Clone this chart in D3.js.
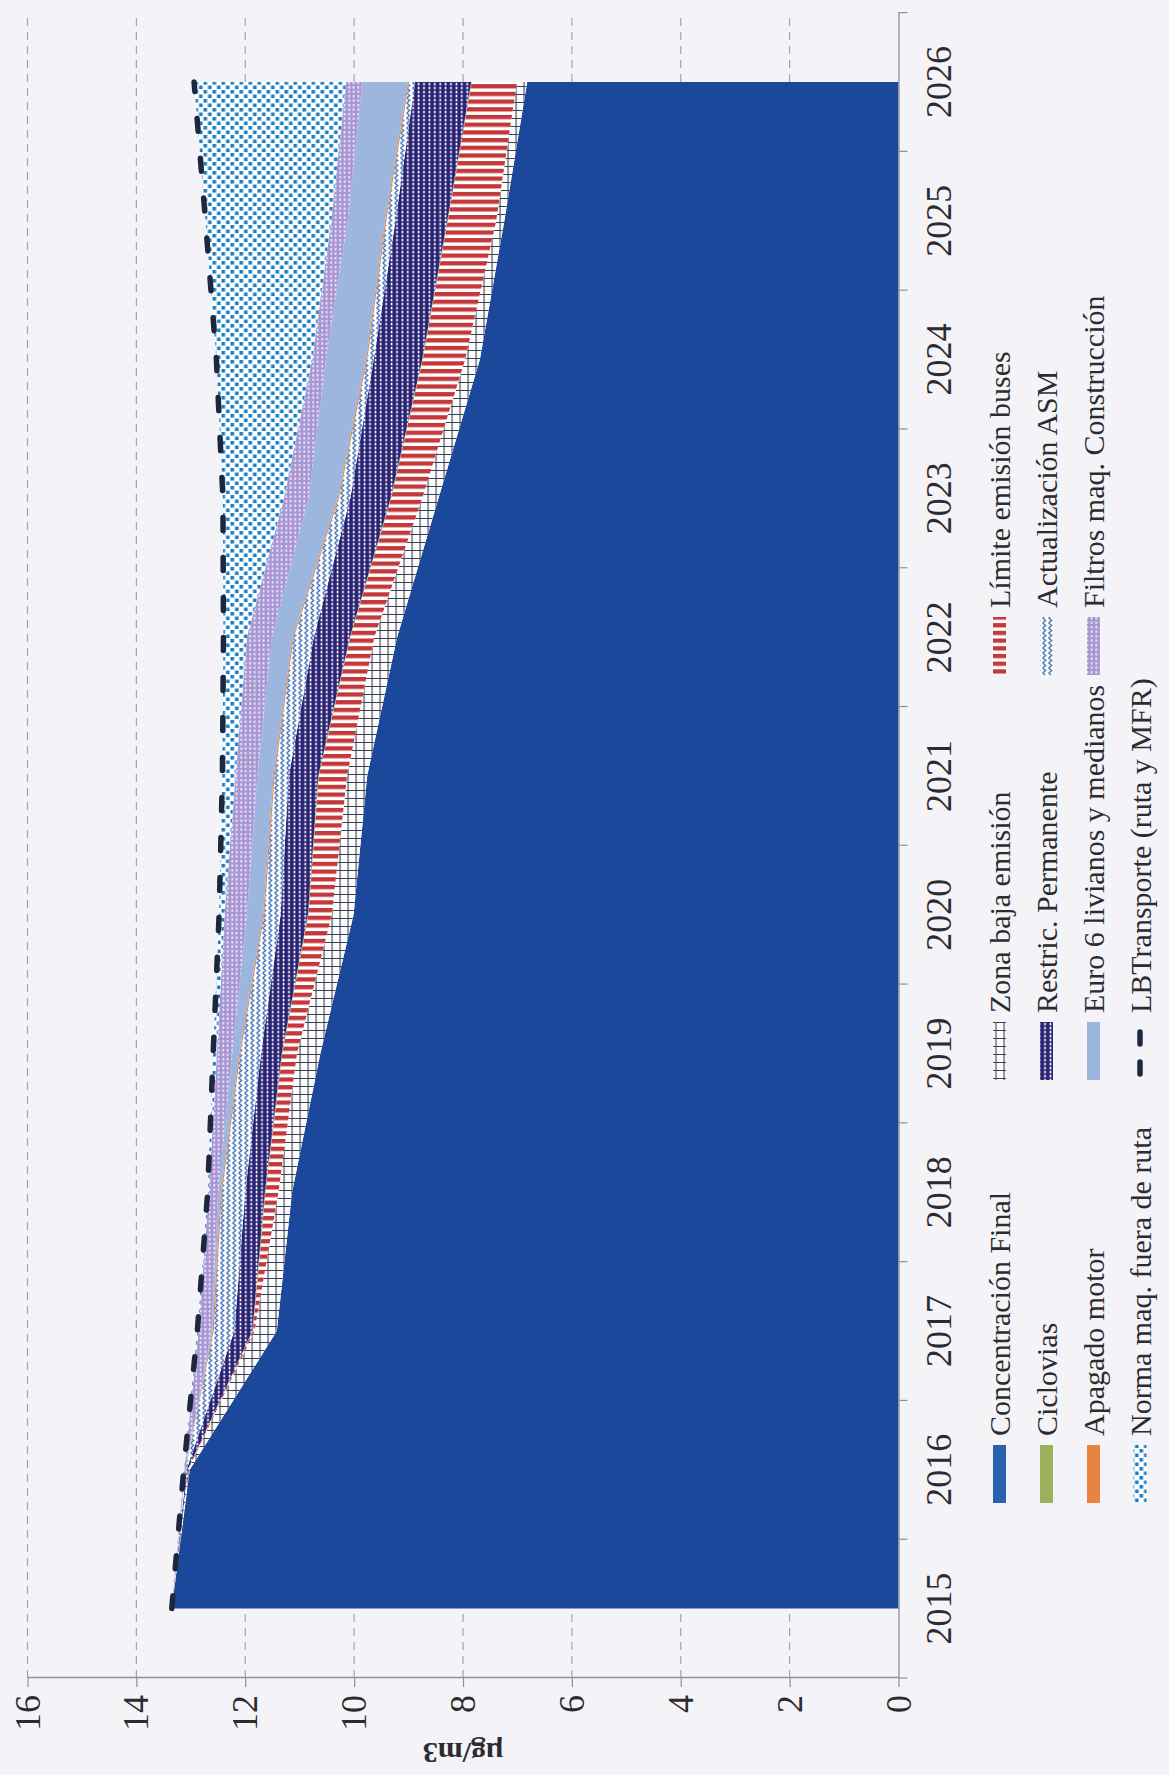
<!DOCTYPE html>
<html>
<head>
<meta charset="utf-8">
<script src="https://cdn.jsdelivr.net/npm/d3@7"></script>
<style>
  html, body { margin: 0; padding: 0; background: #f4f4f8; }
  svg { display: block; }
</style>
</head>
<body>
<svg id="chart" width="1169" height="1775"></svg>
<script>
// ---------------- data ----------------
const years = ["2015","2016","2017","2018","2019","2020","2021","2022","2023","2024","2025","2026"];
const valueTicks = [0, 2, 4, 6, 8, 10, 12, 14, 16];
const unitLabel = "µg/m3";

const concentracionFinal = [13.35, 13.02, 11.42, 11.14, 10.62, 10.01, 9.76, 9.21, 8.45, 7.69, 7.24, 6.82];
const zonaBajaEmision    = [0, 0.03, 0.41, 0.25, 0.43, 0.40, 0.37, 0.42, 0.30, 0.27, 0.15, 0.19];
const limiteEmisionBuses = [0, 0.01, 0.03, 0.24, 0.27, 0.43, 0.52, 0.44, 0.57, 0.78, 0.89, 0.83];
const ciclovias          = [0, 0, 0.01, 0.01, 0.01, 0.01, 0.01, 0.01, 0.01, 0.01, 0.01, 0.01];
const restricPermanente  = [0, 0.02, 0.33, 0.36, 0.38, 0.50, 0.54, 0.66, 0.74, 0.89, 0.95, 1.03];
const actualizacionASM   = [0, 0.02, 0.38, 0.43, 0.38, 0.30, 0.26, 0.37, 0.21, 0.12, 0.17, 0.11];
const apagadoMotor       = [0, 0, 0.02, 0.02, 0.02, 0.02, 0.02, 0.02, 0.02, 0.02, 0.02, 0.02];
const euro6              = [0, 0, 0.02, 0.05, 0.13, 0.30, 0.30, 0.38, 0.54, 0.74, 0.69, 0.84];
const filtrosMaq         = [0, 0.02, 0.24, 0.17, 0.28, 0.41, 0.40, 0.46, 0.45, 0.25, 0.30, 0.30];
const normaMaq           = [0, 0.01, 0.02, 0.02, 0.07, 0.10, 0.24, 0.43, 1.12, 1.76, 2.31, 2.79];
const lbTransporte       = [13.35, 13.13, 12.88, 12.69, 12.59, 12.48, 12.42, 12.40, 12.41, 12.53, 12.73, 12.94];

// stacking order (bottom -> top) equals legend order (row-wise)
const seriesNames = [
  "Concentración Final", "Zona baja emisión", "Límite emisión buses",
  "Ciclovias", "Restric. Permanente", "Actualización ASM",
  "Apagado motor", "Euro 6 livianos y medianos", "Filtros maq. Construcción",
  "Norma maq. fuera de ruta"
];
const seriesValues = [
  concentracionFinal, zonaBajaEmision, limiteEmisionBuses,
  ciclovias, restricPermanente, actualizacionASM,
  apagadoMotor, euro6, filtrosMaq, normaMaq
];
const lineName = "LBTransporte (ruta y MFR)";

// ---------------- layout ----------------
const svg = d3.select("#chart");
const W = 1665.4;   // length of category axis (rotated, runs bottom -> top on screen)
const H = 871;      // length of value axis
const FONT = "'Liberation Serif', 'Times New Roman', serif";

const table = years.map((yr, i) => {
  const row = { year: yr };
  seriesNames.forEach((n, k) => row[n] = seriesValues[k][i]);
  row.lb = lbTransporte[i];
  return row;
});

// ---------------- patterns (designed in screen orientation) ----------------
const defs = svg.append("defs");
function pat(id, w, h, bg, draw) {
  const p = defs.append("pattern").attr("id", id)
    .attr("patternUnits", "userSpaceOnUse")
    .attr("width", w).attr("height", h)
    .attr("patternTransform", "rotate(90)");
  if (bg) p.append("rect").attr("width", w).attr("height", h).attr("fill", bg);
  draw(p);
}
// Zona baja emision: grid
pat("pZona", 8, 8, "#ffffff", p => {
  p.append("path").attr("d", "M0,0.5H8M0.5,0V8").attr("stroke", "#3b3f52").attr("stroke-width", 1.2).attr("fill", "none");
});
// Limite emision buses: horizontal red bars
pat("pLimite", 8, 7.7, "#ffffff", p => {
  p.append("rect").attr("x", 0).attr("y", 0).attr("width", 8).attr("height", 4.3).attr("fill", "#c4373a");
});
// Restric. permanente: navy with white dashes
pat("pRestric", 5.4, 8, "#2a2373", p => {
  p.append("rect").attr("x", 1.5).attr("y", 0.8).attr("width", 1.6).attr("height", 2.6).attr("fill", "#ffffff");
  p.append("rect").attr("x", 1.5).attr("y", 4.8).attr("width", 1.6).attr("height", 2.6).attr("fill", "#ffffff");
});
// Actualizacion ASM: zigzag columns
pat("pActual", 6, 5, "#ffffff", p => {
  p.append("path").attr("d", "M1.2,0L4.2,2.5L1.2,5").attr("stroke", "#2b5fae").attr("stroke-width", 1.2).attr("fill", "none");
});
// Filtros maq: lavender lattice
pat("pFiltros", 4.5, 4.5, "#a896d4", p => {
  p.append("rect").attr("x", 1.4).attr("y", 1.0).attr("width", 1.6).attr("height", 2.4).attr("fill", "#f6f4fb");
});
// Norma maq: blue squares
pat("pNorma", 9, 9, "#ffffff", p => {
  p.append("rect").attr("x", 0.5).attr("y", 0.5).attr("width", 3.6).attr("height", 3.6).attr("fill", "#1a7fc2");
  p.append("rect").attr("x", 5).attr("y", 5).attr("width", 3.6).attr("height", 3.6).attr("fill", "#1a7fc2");
});

const fills = {
  "Concentración Final": "#1b489b",
  "Zona baja emisión": "url(#pZona)",
  "Límite emisión buses": "url(#pLimite)",
  "Ciclovias": "#9bb25a",
  "Restric. Permanente": "url(#pRestric)",
  "Actualización ASM": "url(#pActual)",
  "Apagado motor": "#e8843f",
  "Euro 6 livianos y medianos": "#9db6de",
  "Filtros maq. Construcción": "url(#pFiltros)",
  "Norma maq. fuera de ruta": "url(#pNorma)"
};
const legendFills = Object.assign({}, fills, { "Concentración Final": "#2b62ad" });

// ---------------- rotated chart group ----------------
const g = svg.append("g").attr("transform", "translate(27.5,1678) rotate(-90)");

const x = d3.scaleBand().domain(years).range([0, W]).paddingInner(0).paddingOuter(0);
const xc = yr => x(yr) + x.bandwidth() / 2;
const y = d3.scaleLinear().domain([0, 16]).range([H, 0]);

// gridlines
g.append("g").selectAll("line").data(valueTicks.filter(t => t > 0)).join("line")
  .attr("x1", 0).attr("x2", W)
  .attr("y1", d => y(d)).attr("y2", d => y(d))
  .attr("stroke", "#a3a3a8").attr("stroke-width", 1.2).attr("stroke-dasharray", "8,6");

// stacked areas
const stack = d3.stack().keys(seriesNames);
const layers = stack(table);
const area = d3.area()
  .x(d => xc(d.data.year))
  .y0(d => y(d[0]))
  .y1(d => y(d[1]));
g.append("g").selectAll("path").data(layers).join("path")
  .attr("d", area)
  .attr("fill", d => fills[d.key])
  .attr("stroke", "none");

// LBTransporte dashed line
const line = d3.line().x(d => xc(d.year)).y(d => y(d.lb));
g.append("path").datum(table)
  .attr("d", line)
  .attr("fill", "none")
  .attr("stroke", "#1e2740")
  .attr("stroke-width", 5.5)
  .attr("stroke-linecap", "round")
  .attr("stroke-dasharray", "13,27");

// value axis (left in unrotated frame -> bottom on screen)
const yAxis = g.append("g").call(
  d3.axisLeft(y).tickValues(valueTicks).tickFormat(d3.format("d")).tickSize(9).tickSizeOuter(0).tickPadding(8)
);
yAxis.select(".domain").attr("stroke", "#8f8f96").attr("stroke-width", 1.3);
yAxis.selectAll(".tick line").attr("stroke", "#8f8f96").attr("stroke-width", 1.2);
yAxis.selectAll("text").attr("font-family", FONT).attr("font-size", 36).attr("fill", "#2c2c30");

// category axis (bottom in unrotated frame -> right on screen)
const xAxis = g.append("g").attr("transform", `translate(0,${H})`).call(
  d3.axisBottom(x).tickSize(0).tickSizeOuter(0).tickPadding(0)
);
xAxis.select(".domain").attr("stroke", "#8f8f96").attr("stroke-width", 1.3);
xAxis.selectAll("text").attr("font-family", FONT).attr("font-size", 36).attr("fill", "#2c2c30")
  .attr("y", 52).attr("dy", null);
xAxis.append("g").selectAll("line").data(d3.range(years.length + 1)).join("line")
  .attr("x1", i => i * x.step()).attr("x2", i => i * x.step())
  .attr("y1", 0).attr("y2", 9)
  .attr("stroke", "#8f8f96").attr("stroke-width", 1.2);

// unit label
g.append("text")
  .attr("transform", `translate(-75,${H / 2}) rotate(-90)`)
  .attr("text-anchor", "middle").attr("dominant-baseline", "central")
  .attr("font-family", FONT).attr("font-size", 30).attr("font-weight", "bold")
  .attr("fill", "#2c2c30")
  .text(unitLabel);

// legend
const legendItems = seriesNames.concat([lineName]);
const colU = [175, 598, 1003];
const rowV = [H + 101, H + 148, H + 195, H + 241.5];
const swLen = 58, swTh = 13;
const leg = g.append("g");
legendItems.forEach((name, i) => {
  const c = i % 3, r = Math.floor(i / 3);
  const u0 = colU[c], v0 = rowV[r];
  const it = leg.append("g");
  if (name === lineName) {
    it.append("line")
      .attr("x1", u0 + 6).attr("x2", u0 + 50)
      .attr("y1", v0).attr("y2", v0)
      .attr("stroke", "#1e2740").attr("stroke-width", 5.5)
      .attr("stroke-linecap", "round").attr("stroke-dasharray", "12,18");
  } else {
    it.append("rect")
      .attr("x", u0).attr("y", v0 - swTh / 2)
      .attr("width", swLen).attr("height", swTh)
      .attr("fill", legendFills[name]);
  }
  it.append("text")
    .attr("x", u0 + swLen + 9).attr("y", v0)
    .attr("dominant-baseline", "central")
    .attr("font-family", FONT).attr("font-size", 30).attr("fill", "#2c2c30")
    .text(name);
});
</script>
</body>
</html>
